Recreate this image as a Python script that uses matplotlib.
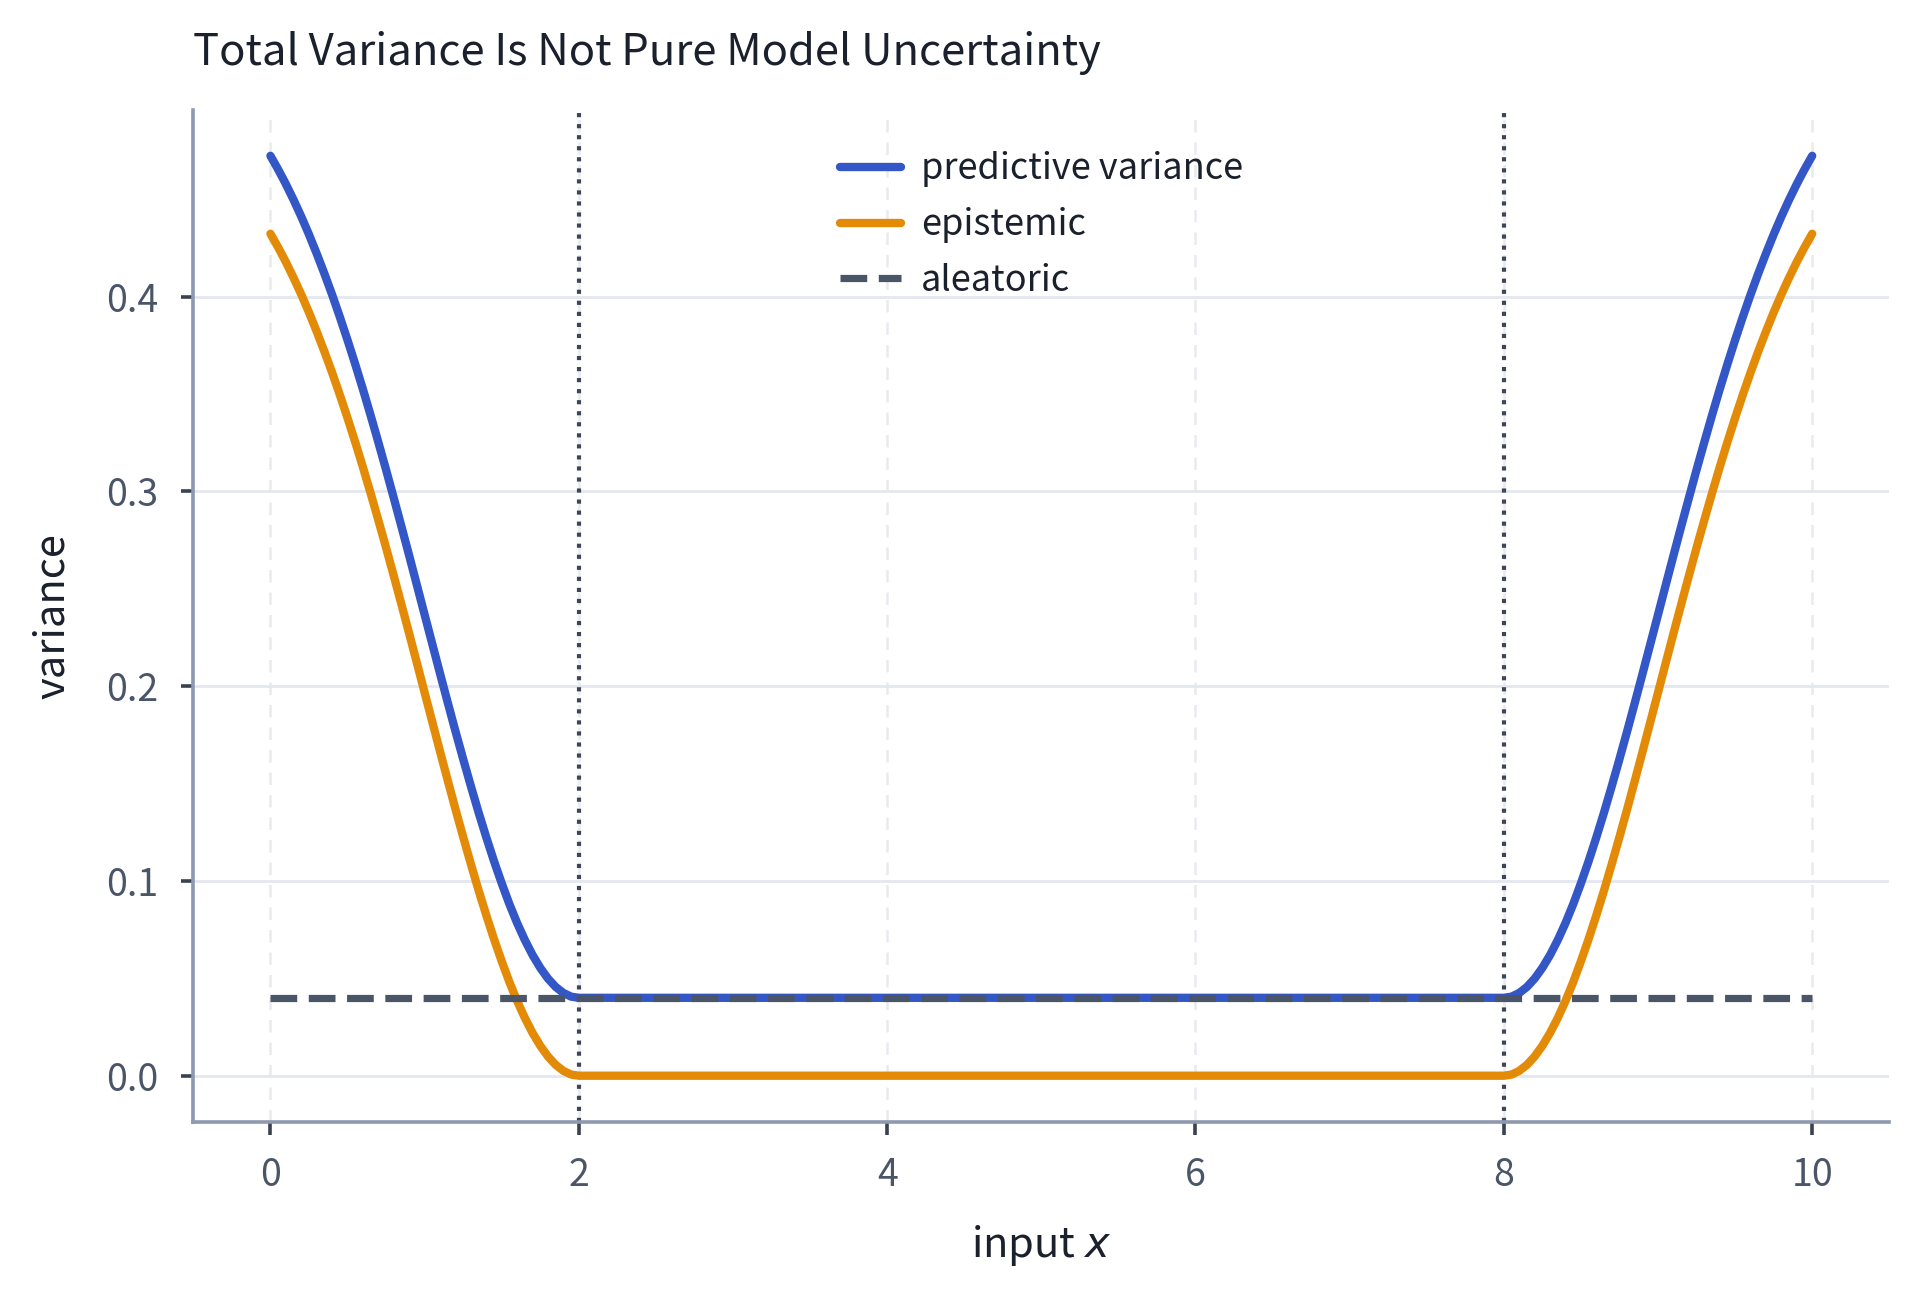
import matplotlib
matplotlib.use("Agg")
import matplotlib.pyplot as plt

# ---- data ----
x_vals = [0.0, 0.05, 0.1, 0.15, 0.2, 0.25, 0.3, 0.35, 0.4, 0.45, 0.5, 0.55, 0.6, 0.65, 0.7, 0.75,
          0.8, 0.85, 0.9, 0.95, 1.0, 1.05, 1.1, 1.15, 1.2, 1.25, 1.3, 1.35, 1.4, 1.45, 1.5, 1.55,
          1.6, 1.65, 1.7, 1.75, 1.8, 1.85, 1.9, 1.95, 2.0,
          8.0, 8.05, 8.1, 8.15, 8.2, 8.25, 8.3, 8.35, 8.4, 8.45, 8.5, 8.55, 8.6, 8.65, 8.7, 8.75,
          8.8, 8.85, 8.9, 8.95, 9.0, 9.05, 9.1, 9.15, 9.2, 9.25, 9.3, 9.35, 9.4, 9.45, 9.5, 9.55,
          9.6, 9.65, 9.7, 9.75, 9.8, 9.85, 9.9, 9.95, 10.0]
epistemic = [0.4323, 0.4253, 0.4178, 0.4097, 0.4011, 0.3919, 0.3821, 0.3718, 0.3610, 0.3496,
             0.3377, 0.3253, 0.3124, 0.2990, 0.2852, 0.2711, 0.2566, 0.2419, 0.2270, 0.2119,
             0.1967, 0.1816, 0.1665, 0.1516, 0.1369, 0.1226, 0.1087, 0.0952, 0.0824, 0.0702,
             0.0588, 0.0481, 0.0384, 0.0297, 0.0220, 0.0154, 0.0099, 0.0056, 0.0025, 0.0006, 0.0,
             0.0, 0.0006, 0.0025, 0.0056, 0.0099, 0.0154, 0.0220, 0.0297, 0.0384, 0.0481,
             0.0588, 0.0702, 0.0824, 0.0952, 0.1087, 0.1226, 0.1369, 0.1516, 0.1665, 0.1816,
             0.1967, 0.2119, 0.2270, 0.2419, 0.2566, 0.2711, 0.2852, 0.2990, 0.3124, 0.3253,
             0.3377, 0.3496, 0.3610, 0.3718, 0.3821, 0.3919, 0.4011, 0.4097, 0.4178, 0.4253, 0.4323]
predictive = [0.4723, 0.4653, 0.4578, 0.4497, 0.4411, 0.4319, 0.4221, 0.4118, 0.4010, 0.3896,
              0.3777, 0.3653, 0.3524, 0.3390, 0.3252, 0.3111, 0.2966, 0.2819, 0.2670, 0.2519,
              0.2367, 0.2216, 0.2065, 0.1916, 0.1769, 0.1626, 0.1487, 0.1352, 0.1224, 0.1102,
              0.0988, 0.0881, 0.0784, 0.0697, 0.0620, 0.0554, 0.0499, 0.0456, 0.0425, 0.0406, 0.0400,
              0.0400, 0.0406, 0.0425, 0.0456, 0.0499, 0.0554, 0.0620, 0.0697, 0.0784, 0.0881,
              0.0988, 0.1102, 0.1224, 0.1352, 0.1487, 0.1626, 0.1769, 0.1916, 0.2065, 0.2216,
              0.2367, 0.2519, 0.2670, 0.2819, 0.2966, 0.3111, 0.3252, 0.3390, 0.3524, 0.3653,
              0.3777, 0.3896, 0.4010, 0.4118, 0.4221, 0.4319, 0.4411, 0.4497, 0.4578, 0.4653, 0.4723]
aleatoric_x = [0.0, 10.0]
aleatoric = [0.04, 0.04]
data_bounds = [2.0, 8.0]
x_ticks = [0, 2, 4, 6, 8, 10]
y_ticks = [0.0, 0.1, 0.2, 0.3, 0.4]
labels = ["predictive variance", "epistemic", "aleatoric"]

plt.rcParams['font.family'] = ['Noto Sans CJK KR', 'DejaVu Sans']
plt.rcParams['mathtext.fontset'] = 'dejavusans'

fig = plt.figure(figsize=(9.6, 6.46), dpi=200)
ax = fig.add_axes([0.1007, 0.1318, 0.8833, 0.7832])

c_blue = "#3457c8"
c_orange = "#e38b06"
c_dark = "#4a5568"

ax.plot(x_vals, predictive, color=c_blue, lw=3.0, label=labels[0], solid_capstyle='round', zorder=3)
ax.plot(x_vals, epistemic, color=c_orange, lw=3.0, label=labels[1], solid_capstyle='round', zorder=3)
ax.plot(aleatoric_x, aleatoric, color=c_dark, lw=2.6, ls='--', label=labels[2], zorder=4)
for b in data_bounds:
    ax.axvline(b, color="#3e4557", lw=1.5, ls=':', zorder=2)

ax.set_xticks(x_ticks)
ax.set_yticks(y_ticks)
ax.set_yticklabels([f"{v:.1f}" for v in y_ticks])

ax.grid(axis='y', color="#e3e8ef", lw=1.0, ls='-', zorder=0)
ax.grid(axis='x', color="#e8eaee", lw=0.9, ls=(0, (5, 4)), zorder=0)
ax.set_axisbelow(True)

for s in ['top', 'right']:
    ax.spines[s].set_visible(False)
for s in ['left', 'bottom']:
    ax.spines[s].set_color("#8d99ae")
    ax.spines[s].set_linewidth(1.3)

ax.tick_params(axis='both', colors="#3a4150", length=4.5, width=1.3, labelsize=13.5,
               labelcolor="#4a5568", pad=8)

ax.set_xlabel("input $x$", fontsize=15, color="#1a202c", labelpad=10)
ax.set_ylabel("variance", fontsize=15, color="#1a202c", labelpad=12)
ax.set_title("Total Variance Is Not Pure Model Uncertainty", loc='left', fontsize=15.7,
             color="#1a202c", pad=16)

leg = ax.legend(loc='upper center', frameon=False, fontsize=13, handlelength=1.7,
                handletextpad=0.55, labelspacing=0.55, borderaxespad=0.75)
for t in leg.get_texts():
    t.set_color("#1a202c")

fig.savefig("out.png", dpi=200)
